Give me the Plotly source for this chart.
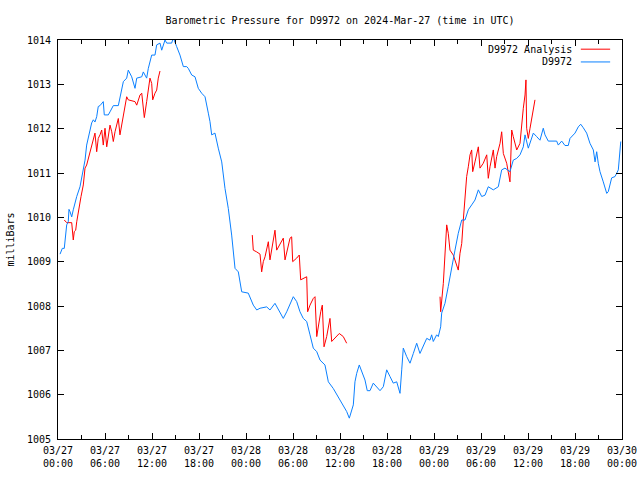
import plotly.graph_objects as go
import pandas as pd

START = "2024-03-27 00:00"

# D9972 observed pressure: hours since start, milliBars
obs_hours = [0.26, 0.55, 0.80, 0.98, 1.11, 1.31, 1.40, 1.53, 1.75, 1.95, 2.17, 2.39, 2.81, 3.03, 3.23, 3.45,
             3.66, 3.87, 4.30, 4.51, 4.72, 4.94, 5.14, 5.36, 5.78, 5.91, 6.42, 6.64, 7.06, 7.70, 7.91, 8.34,
             8.77, 8.97, 9.41, 9.83, 10.05, 10.69, 10.89, 11.32, 11.53, 11.96, 12.38, 12.60, 13.02, 13.24,
             13.66, 13.88, 14.51, 14.72, 15.15, 15.57, 16.00, 16.43, 16.63, 17.07, 17.49, 17.91, 18.34, 18.77,
             19.19, 19.40, 19.62, 20.04, 20.46, 20.90, 21.32, 21.74, 22.17, 22.38, 22.60, 23.02, 23.45, 24.29,
             24.93, 25.37, 25.79, 26.64, 27.06, 27.70, 28.34, 28.76, 29.20, 29.62, 30.04, 30.47, 30.89, 31.31,
             31.75, 32.17, 32.59, 33.03, 33.45, 34.08, 34.51, 35.14, 35.78, 36.22, 36.85, 37.19, 37.70, 37.91,
             38.13, 38.46, 38.77, 39.19, 39.48, 39.83, 40.25, 40.68, 41.11, 41.53, 41.96, 42.38, 42.80, 43.24,
             43.66, 43.88, 44.08, 44.51, 44.94, 45.36, 45.79, 46.21, 46.63, 47.07, 47.49, 47.70, 47.91, 48.34,
             48.55, 48.85, 48.98, 49.40, 49.82, 50.26, 50.68, 51.10, 51.54, 51.96, 52.38, 52.81, 53.23, 53.66,
             54.09, 54.51, 54.93, 55.57, 56.21, 56.64, 57.06, 57.70, 58.12, 58.56, 58.98, 59.40, 59.62, 60.04,
             60.68, 61.11, 61.53, 61.95, 62.17, 62.59, 63.66, 63.87, 64.30, 64.72, 65.14, 65.36, 66.00, 66.42,
             66.73, 67.06, 67.49, 67.91, 68.34, 68.56, 68.77, 68.97, 69.19, 69.61, 70.05, 70.25, 70.68, 71.11,
             71.53, 71.84]
obs_mb = [1009.17, 1009.30, 1009.30, 1009.64, 1009.83, 1009.90, 1010.18, 1010.13, 1010.01, 1010.17, 1010.35,
          1010.47, 1010.69, 1010.89, 1011.11, 1011.29, 1011.63, 1011.82, 1012.13, 1012.20, 1012.15, 1012.27,
          1012.50, 1012.52, 1012.61, 1012.31, 1012.31, 1012.38, 1012.52, 1012.52, 1012.72, 1013.06, 1013.14,
          1013.32, 1013.17, 1012.91, 1013.14, 1013.17, 1013.28, 1013.14, 1013.36, 1013.66, 1013.66, 1013.89,
          1013.93, 1013.77, 1014.00, 1013.93, 1013.93, 1014.05, 1013.85, 1013.66, 1013.40, 1013.40, 1013.36,
          1013.21, 1013.17, 1012.91, 1012.80, 1012.72, 1012.35, 1012.16, 1011.86, 1011.90, 1011.56, 1011.25,
          1010.65, 1010.20, 1009.60, 1009.15, 1008.85, 1008.77, 1008.32, 1008.29, 1008.02, 1007.91, 1007.95,
          1007.98, 1007.91, 1008.06, 1007.87, 1007.72, 1007.87, 1008.06, 1008.21, 1008.10, 1007.87, 1007.72,
          1007.65, 1007.35, 1007.05, 1006.97, 1006.78, 1006.67, 1006.29, 1006.14, 1005.95, 1005.84, 1005.62,
          1005.47, 1005.77, 1006.29, 1006.48, 1006.67, 1006.52, 1006.33, 1006.09, 1006.09, 1006.26, 1006.18,
          1006.09, 1006.18, 1006.56, 1006.41, 1006.26, 1006.29, 1006.03, 1006.56, 1007.05, 1006.86, 1006.71,
          1006.93, 1007.16, 1006.93, 1007.08, 1007.27, 1007.23, 1007.35, 1007.20, 1007.35, 1007.31, 1007.53,
          1007.84, 1008.06, 1008.44, 1008.89, 1009.26, 1009.64, 1009.94, 1009.94, 1010.17, 1010.28, 1010.39,
          1010.62, 1010.47, 1010.50, 1010.69, 1010.62, 1010.69, 1011.07, 1011.11, 1011.03, 1011.29, 1011.33,
          1011.41, 1011.59, 1011.86, 1011.56, 1011.90, 1011.82, 1011.74, 1012.01, 1011.86, 1011.72, 1011.72,
          1011.63, 1011.72, 1011.62, 1011.62, 1011.78, 1011.90, 1012.04, 1012.10, 1012.02, 1011.90, 1011.67,
          1011.52, 1011.25, 1011.48, 1011.22, 1011.03, 1010.80, 1010.54, 1010.58, 1010.89, 1010.92, 1011.07,
          1011.71]

# D9972 Analysis: three runs (hours since start, milliBars)
ana1_hours = [0.80, 1.11, 1.75, 1.95, 2.08, 2.26, 2.39, 2.51, 2.68, 2.94, 3.23, 3.45, 3.66, 3.87, 4.09, 4.30,
              4.51, 4.72, 4.94, 5.14, 5.36, 5.58, 5.78, 6.00, 6.22, 6.42, 6.64, 6.86, 7.06, 7.28, 7.49, 7.70,
              7.91, 8.13, 8.34, 8.55, 8.77, 8.97, 9.61, 9.83, 10.05, 10.25, 10.47, 10.69, 10.89, 11.02, 11.32,
              11.53, 11.74, 11.96, 12.09, 12.38, 12.60, 12.80, 13.02]
ana1_mb = [1009.94, 1009.88, 1009.88, 1009.49, 1009.68, 1009.71, 1009.90, 1010.05, 1010.24, 1010.47, 1010.73,
           1011.11, 1011.18, 1011.33, 1011.48, 1011.63, 1011.78, 1011.90, 1011.48, 1011.78, 1011.86, 1011.97,
           1011.63, 1012.01, 1011.59, 1011.86, 1012.08, 1011.93, 1011.71, 1011.93, 1012.08, 1012.23, 1011.86,
           1012.08, 1012.27, 1012.53, 1012.72, 1012.65, 1012.62, 1012.61, 1012.53, 1012.65, 1012.76, 1012.80,
           1012.38, 1012.25, 1012.61, 1012.91, 1013.14, 1013.02, 1012.65, 1012.80, 1012.87, 1013.14, 1013.30]

ana2_hours = [24.80, 24.93, 25.37, 25.79, 26.00, 26.21, 26.43, 26.64, 26.85, 27.06, 27.28, 27.48, 27.70, 27.92,
              28.34, 28.76, 28.98, 29.20, 29.40, 29.62, 29.83, 29.96, 30.47, 30.80, 30.98, 31.75, 31.87, 32.17,
              32.59, 32.81, 33.03, 33.23, 33.54, 33.74, 33.96, 34.30, 34.51, 34.72, 34.94, 35.36, 35.91, 36.42,
              36.85]
ana2_mb = [1009.60, 1009.26, 1009.22, 1009.17, 1008.77, 1009.00, 1009.11, 1009.30, 1009.45, 1009.04, 1009.30,
           1009.45, 1009.71, 1009.26, 1009.38, 1009.53, 1009.04, 1009.22, 1009.38, 1009.53, 1009.56, 1009.00,
           1009.08, 1009.15, 1008.59, 1008.66, 1007.87, 1008.02, 1008.17, 1008.21, 1007.31, 1007.57, 1007.87,
           1008.02, 1007.08, 1007.31, 1007.57, 1007.72, 1007.20, 1007.27, 1007.38, 1007.31, 1007.16]

ana3_hours = [48.77, 48.85, 49.19, 49.40, 49.62, 49.82, 50.04, 50.46, 50.90, 51.10, 51.32, 51.54, 51.74, 51.96,
              52.17, 52.38, 52.60, 52.81, 52.94, 53.23, 53.45, 53.66, 53.87, 54.29, 54.73, 54.93, 55.15, 55.57,
              55.79, 56.00, 56.43, 56.64, 56.85, 57.28, 57.70, 57.92, 58.12, 58.56, 58.98, 59.19, 59.40, 59.62,
              59.74, 59.83, 60.04, 60.26, 60.47, 60.68, 60.89]
ana3_mb = [1008.21, 1007.87, 1008.51, 1009.26, 1009.83, 1009.64, 1009.26, 1009.15, 1008.93, 1008.81, 1009.19,
           1009.41, 1009.94, 1010.54, 1010.92, 1011.14, 1011.41, 1011.52, 1011.03, 1011.25, 1011.41, 1011.59,
           1011.11, 1011.22, 1011.41, 1010.88, 1011.14, 1011.52, 1011.11, 1011.37, 1011.67, 1011.93, 1011.44,
           1011.22, 1010.80, 1011.97, 1011.82, 1011.52, 1011.67, 1012.12, 1012.46, 1012.76, 1013.10, 1012.01,
           1011.78, 1012.01, 1012.23, 1012.46, 1012.65]

TITLE = "Barometric Pressure for D9972 on 2024-Mar-27 (time in UTC)"
Y_LABEL = "milliBars"
SERIES_NAMES = ["D9972 Analysis", "D9972"]
SERIES_COLORS = ["#ff0000", "#0a80ff"]

FONT = "DejaVu Sans Mono"
t0 = pd.Timestamp(START)


def to_time(hours):
    return [t0 + pd.Timedelta(hours=h) for h in hours]


# join analysis runs with gaps
ana_x, ana_y = [], []
for hrs, vals in [(ana1_hours, ana1_mb), (ana2_hours, ana2_mb), (ana3_hours, ana3_mb)]:
    if ana_x:
        ana_x.append(None)
        ana_y.append(None)
    ana_x += to_time(hrs)
    ana_y += vals

fig = go.Figure()
fig.add_trace(go.Scatter(x=ana_x, y=ana_y, mode="lines", name=SERIES_NAMES[0],
                         line=dict(color=SERIES_COLORS[0], width=1), connectgaps=False))
fig.add_trace(go.Scatter(x=to_time(obs_hours), y=obs_mb, mode="lines", name=SERIES_NAMES[1],
                         line=dict(color=SERIES_COLORS[1], width=1)))

tick_times = [t0 + pd.Timedelta(hours=6 * i) for i in range(13)]
tick_text = [t.strftime("%m/%d") + "<br>" + t.strftime("%H:%M") for t in tick_times]

fig.update_xaxes(
    range=[t0, t0 + pd.Timedelta(hours=72)],
    tickvals=tick_times, ticktext=tick_text,
    ticks="inside", ticklen=6, tickcolor="black",
    minor=dict(ticks="inside", ticklen=4, dtick=3 * 3600 * 1000, tick0=t0, tickcolor="black"),
    showline=True, linecolor="black", linewidth=1, mirror="ticks",
    showgrid=False, zeroline=False, automargin=False, ticklabelstandoff=2,
    tickfont=dict(family=FONT, size=10, color="black"),
)
fig.update_yaxes(
    range=[1005, 1014], dtick=1, tick0=1005,
    ticks="inside", ticklen=6, tickcolor="black",
    showline=True, linecolor="black", linewidth=1, mirror="ticks",
    showgrid=False, zeroline=False, automargin=False, ticklabelstandoff=4,
    tickfont=dict(family=FONT, size=10, color="black"),
)

annotations = [
    dict(text=Y_LABEL, xref="paper", yref="paper", x=-0.085, y=0.5, textangle=-90,
         showarrow=False, font=dict(family=FONT, size=10, color="black"), xanchor="center", yanchor="middle"),
]
shapes = []
leg_y = [0.977, 0.945]
for name, color, yy in zip(SERIES_NAMES, SERIES_COLORS, leg_y):
    annotations.append(dict(text=name, xref="paper", yref="paper", x=0.915, y=yy, xanchor="right",
                            yanchor="middle", showarrow=False, font=dict(family=FONT, size=10, color="black")))
    shapes.append(dict(type="line", xref="paper", yref="paper", x0=0.927, x1=0.979, y0=yy, y1=yy,
                       line=dict(color=color, width=1)))

W, H = 640, 480
fig.update_layout(
    width=W, height=H,
    margin=dict(l=58, r=18, t=40, b=41),
    paper_bgcolor="white", plot_bgcolor="white",
    showlegend=False,
    title=dict(text=TITLE, x=0.5, xref="paper", xanchor="center", y=1 - 20 / H, yanchor="middle",
               font=dict(family=FONT, size=10, color="black"), automargin=False),
    annotations=annotations, shapes=shapes,
    font=dict(family=FONT, size=10, color="black"),
)

# remove the browser's default page margin so the 640x480 figure fills the window exactly
fig.write_html("out.html",
               config={"displayModeBar": False},
               post_script="document.body.style.margin='0';document.body.style.overflow='hidden';")
